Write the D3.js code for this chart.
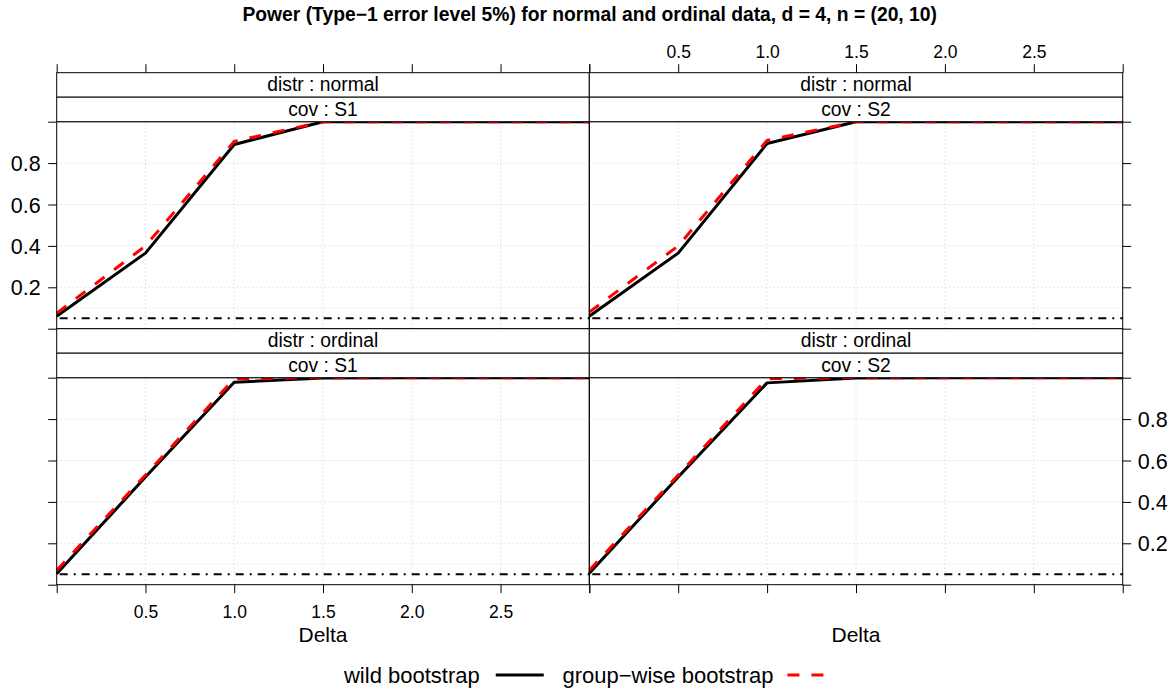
<!DOCTYPE html>
<html>
<head>
<meta charset="utf-8">
<script src="https://cdn.jsdelivr.net/npm/d3@7"></script>
<style>
  html, body { margin: 0; padding: 0; background: #fff; }
  svg { display: block; font-family: "Liberation Sans", Arial, Helvetica, sans-serif; }
</style>
</head>
<body>
<svg id="chart" width="1175" height="691"></svg>
<script>
// ---------------- data ----------------
const deltas = [0, 0.5, 1, 1.5, 2, 2.5, 3];
const wildNormalS1   = [0.060, 0.365, 0.890, 1.000, 1.000, 1.000, 1.000];
const groupNormalS1  = [0.075, 0.400, 0.905, 1.000, 1.000, 1.000, 1.000];
const wildNormalS2   = [0.060, 0.365, 0.895, 1.000, 1.000, 1.000, 1.000];
const groupNormalS2  = [0.080, 0.400, 0.910, 1.000, 1.000, 1.000, 1.000];
const wildOrdinalS1  = [0.053, 0.520, 0.978, 0.998, 1.000, 1.000, 1.000];
const groupOrdinalS1 = [0.070, 0.530, 0.995, 1.000, 1.000, 1.000, 1.000];
const wildOrdinalS2  = [0.055, 0.520, 0.975, 0.998, 1.000, 1.000, 1.000];
const groupOrdinalS2 = [0.070, 0.530, 0.995, 1.000, 1.000, 1.000, 1.000];
const alphaLevel = 0.05;
const distrLabels = ["normal", "ordinal"];
const covLabels = ["S1", "S2"];
const seriesNames = ["wild bootstrap", "group\u2212wise bootstrap"];
const xTicks = [0, 0.5, 1, 1.5, 2, 2.5, 3];
const xTickLabels = ["", "0.5", "1.0", "1.5", "2.0", "2.5", ""];
const yTicks = [0, 0.2, 0.4, 0.6, 0.8, 1];
const yTickLabels = ["", "0.2", "0.4", "0.6", "0.8", ""];
const xGrid = [0.5, 1, 1.5, 2, 2.5];
const yGrid = [0.1, 0.2, 0.4, 0.6, 0.8];
const titleText = "Power (Type\u22121 error level 5%) for normal and ordinal data, d = 4, n = (20, 10)";
const xLabel = "Delta";

const panelData = [
  { row: 0, col: 0, distr: distrLabels[0], cov: covLabels[0], wild: wildNormalS1, group: groupNormalS1 },
  { row: 0, col: 1, distr: distrLabels[0], cov: covLabels[1], wild: wildNormalS2, group: groupNormalS2 },
  { row: 1, col: 0, distr: distrLabels[1], cov: covLabels[0], wild: wildOrdinalS1, group: groupOrdinalS1 },
  { row: 1, col: 1, distr: distrLabels[1], cov: covLabels[1], wild: wildOrdinalS2, group: groupOrdinalS2 }
];

// ---------------- layout ----------------
const svg = d3.select("#chart");
const colX = [56.7, 589.3, 1122.7];
const stripH = 24.5;
const rowTop = [72.7, 328.7];       // top of first strip
const panelH = 207;
const tickLen = 8.5;
const FS_XTICK = 17.5, FS_YTICK = 21.5, FS_STRIP = 19.3, FS_TITLE = 19.3, FS_LAB = 21, FS_LEG = 22;

function xScale(col) { return d3.scaleLinear().domain([0, 3]).range([colX[col], colX[col + 1]]); }
function yScale(row) {
  const top = rowTop[row] + 2 * stripH;
  return d3.scaleLinear().domain([0, 1]).range([top + panelH, top]);
}

// title
svg.append("text")
  .attr("x", (colX[0] + colX[2]) / 2).attr("y", 21)
  .attr("text-anchor", "middle").attr("font-weight", "bold")
  .attr("font-size", FS_TITLE).text(titleText);

const line = (x, y) => d3.line().x((d, i) => x(deltas[i])).y(d => y(d));

panelData.forEach(p => {
  const x = xScale(p.col), y = yScale(p.row);
  const g = svg.append("g");
  const [x0, x1] = x.range();
  const [yb, yt] = y.range();

  // grid
  g.selectAll(".gx").data(xGrid).join("line")
    .attr("x1", d => x(d)).attr("x2", d => x(d)).attr("y1", yb).attr("y2", yt)
    .attr("stroke", "#cfcfcf").attr("stroke-width", 1).attr("stroke-dasharray", "1,3");
  g.selectAll(".gy").data(yGrid).join("line")
    .attr("y1", d => y(d)).attr("y2", d => y(d)).attr("x1", x0).attr("x2", x1)
    .attr("stroke", "#cfcfcf").attr("stroke-width", 1).attr("stroke-dasharray", "1,3");

  // reference level
  g.append("line")
    .attr("x1", x0 + 3).attr("x2", x1).attr("y1", y(alphaLevel)).attr("y2", y(alphaLevel))
    .attr("stroke", "#000").attr("stroke-width", 2).attr("stroke-dasharray", "8,6,2,6");

  // series
  g.append("path").datum(p.wild).attr("d", line(x, y))
    .attr("fill", "none").attr("stroke", "#000").attr("stroke-width", 3)
    .attr("stroke-linejoin", "round");
  g.append("path").datum(p.group).attr("d", line(x, y))
    .attr("fill", "none").attr("stroke", "#ff0000").attr("stroke-width", 3)
    .attr("stroke-dasharray", "12,12");

  // panel border
  g.append("rect").attr("x", x0).attr("y", yt).attr("width", x1 - x0).attr("height", yb - yt)
    .attr("fill", "none").attr("stroke", "#000").attr("stroke-width", 1);

  // strips
  const st = rowTop[p.row];
  [ "distr : " + p.distr, "cov : " + p.cov ].forEach((t, k) => {
    g.append("rect").attr("x", x0).attr("y", st + k * stripH).attr("width", x1 - x0).attr("height", stripH)
      .attr("fill", "#fff").attr("stroke", "#000").attr("stroke-width", 1);
    g.append("text").attr("x", (x0 + x1) / 2).attr("y", st + k * stripH + 18.3)
      .attr("text-anchor", "middle").attr("font-size", FS_STRIP).text(t);
  });

  // axes
  const fmtX = d => xTickLabels[xTicks.indexOf(d)];
  const fmtY = d => yTickLabels[yTicks.indexOf(d)];
  const styleAxis = (sel) => {
    sel.select(".domain").remove();
    sel.selectAll(".tick line").attr("stroke", "#000");
    sel.selectAll(".tick text").attr("fill", "#000").attr("font-family", null);
  };
  if (p.row === 1) {
    const ax = svg.append("g").attr("transform", `translate(0,${yb})`)
      .call(d3.axisBottom(x).tickValues(xTicks).tickSize(tickLen)
        .tickFormat(p.col === 0 ? fmtX : () => ""));
    styleAxis(ax);
    ax.selectAll(".tick text").attr("y", 33.6).attr("dy", null).attr("font-size", FS_XTICK);
    svg.append("text").attr("x", (x0 + x1) / 2).attr("y", 641.7)
      .attr("text-anchor", "middle").attr("font-size", FS_LAB).text(xLabel);
  }
  if (p.row === 0) {
    const ax = svg.append("g").attr("transform", `translate(0,${st})`)
      .call(d3.axisTop(x).tickValues(xTicks).tickSize(tickLen)
        .tickFormat(p.col === 1 ? fmtX : () => ""));
    styleAxis(ax);
    ax.selectAll(".tick text").attr("y", -14.4).attr("dy", null).attr("font-size", FS_XTICK);
  }
  if (p.col === 0) {
    const ax = svg.append("g").attr("transform", `translate(${x0},0)`)
      .call(d3.axisLeft(y).tickValues(yTicks).tickSize(tickLen)
        .tickFormat(p.row === 0 ? fmtY : () => ""));
    styleAxis(ax);
    ax.selectAll(".tick text").attr("x", -16).attr("dy", "0.35em").attr("font-size", FS_YTICK);
  }
  if (p.col === 1) {
    const ax = svg.append("g").attr("transform", `translate(${x1},0)`)
      .call(d3.axisRight(y).tickValues(yTicks).tickSize(tickLen)
        .tickFormat(p.row === 1 ? fmtY : () => ""));
    styleAxis(ax);
    ax.selectAll(".tick text").attr("x", 15).attr("dy", "0.35em").attr("font-size", FS_YTICK);
  }
});

// legend
const legY = 675;
const leg = svg.append("g");
const t1 = leg.append("text").attr("font-size", FS_LEG).attr("y", legY + 7.5).text(seriesNames[0]);
const t2 = leg.append("text").attr("font-size", FS_LEG).attr("y", legY + 7.5).text(seriesNames[1]);
const w1 = t1.node().getComputedTextLength();
const w2 = t2.node().getComputedTextLength();
const gapA = 16, lineL = 48, gapB = 18.7, gapC = 14;
const total = w1 + gapA + lineL + gapB + w2 + gapC + lineL;
const start = (colX[0] + colX[2]) / 2 - total / 2;
t1.attr("x", start);
const l1x = start + w1 + gapA;
leg.append("line").attr("x1", l1x).attr("x2", l1x + lineL).attr("y1", legY).attr("y2", legY)
  .attr("stroke", "#000").attr("stroke-width", 3);
const t2x = l1x + lineL + gapB;
t2.attr("x", t2x);
const l2x = t2x + w2 + gapC;
leg.append("line").attr("x1", l2x).attr("x2", l2x + lineL).attr("y1", legY).attr("y2", legY)
  .attr("stroke", "#ff0000").attr("stroke-width", 3).attr("stroke-dasharray", "12,12");
</script>
</body>
</html>
